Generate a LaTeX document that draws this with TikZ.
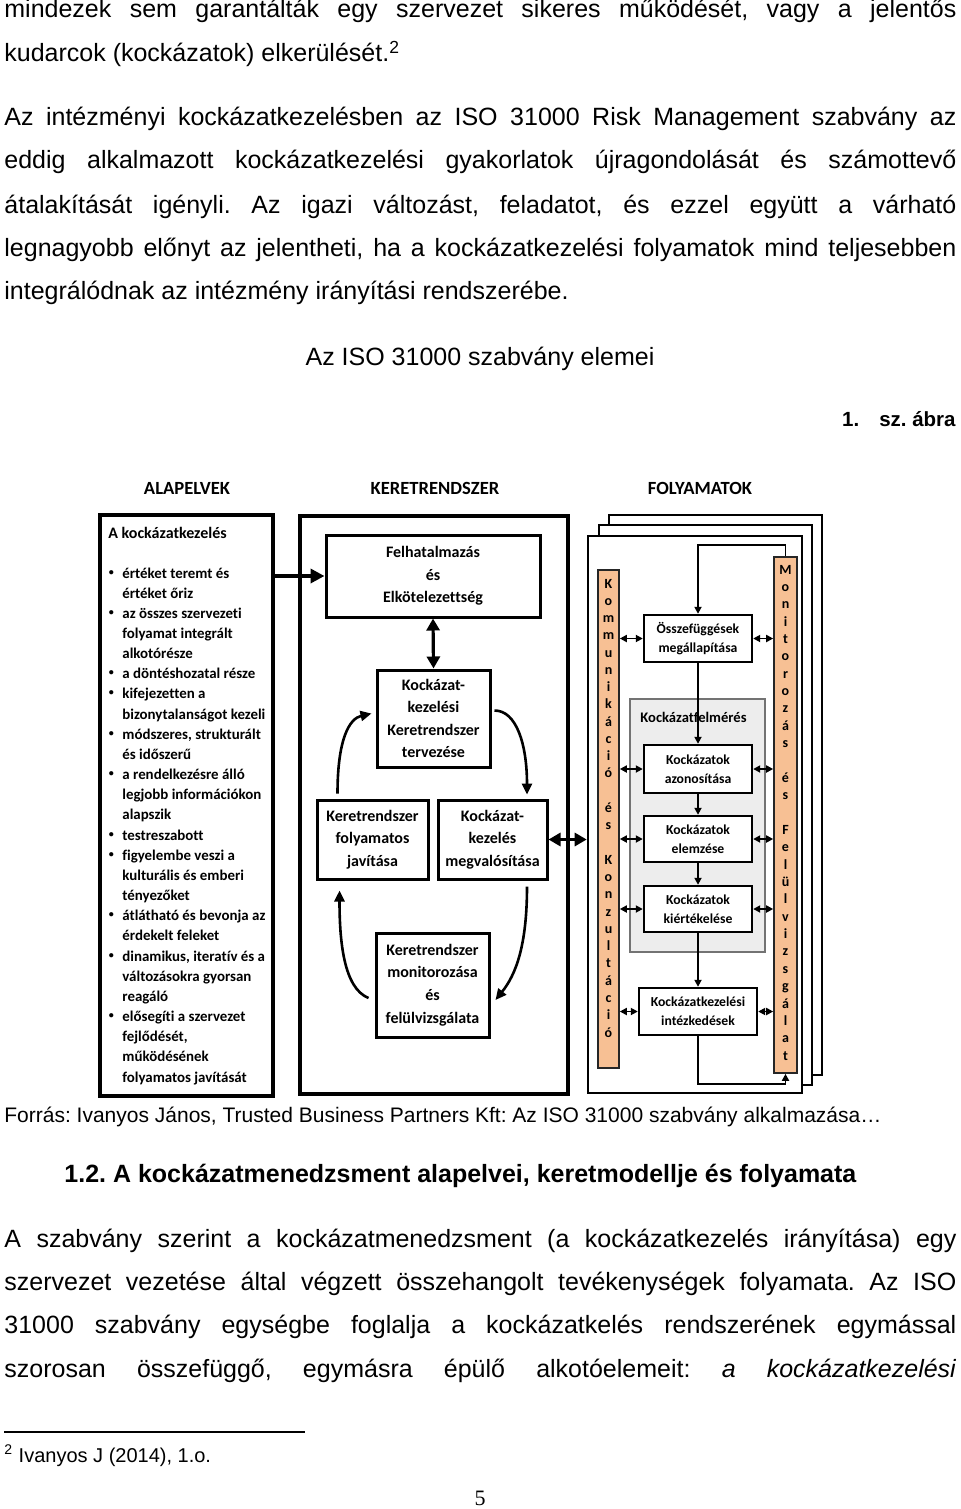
\documentclass[tikz,border=0pt]{standalone}
\usepackage{fontspec}
\setmainfont{Liberation Sans}
\newfontfamily\calfont{Carlito}[Ligatures=NoCommon]
\newfontfamily\serifpn{Liberation Serif}
\usetikzlibrary{arrows.meta,calc}
\definecolor{colpeach}{RGB}{247,192,148}
\frenchspacing
\begin{document}
\begin{tikzpicture}[x=0.5pt,y=-0.5pt,
  body/.style={anchor=base west, inner sep=0, font=\fontsize{12.5}{15}\selectfont},
  hd/.style={anchor=base, inner sep=0, font=\calfont\bfseries\fontsize{9.3}{11}\selectfont},
  bigbox/.style={draw, line width=1.7pt, inner sep=0},
  kbox/.style={draw, line width=1.5pt, fill=white, align=center, inner sep=0, font=\calfont\bfseries\fontsize{8}{11.3}\selectfont},
  fbox/.style={draw, line width=1.2pt, fill=white, align=center, inner sep=0, font=\calfont\bfseries\fontsize{6.85}{9.5}\selectfont},
  col/.style={draw=black!85, line width=0.8pt, fill=colpeach, inner sep=0},
  lt/.style={anchor=base, inner sep=0, font=\calfont\bfseries\fontsize{7}{8}\selectfont},
  lb/.style={anchor=base west, inner sep=0, font=\calfont\bfseries\fontsize{7.45}{10}\selectfont},
  heavy/.style={line width=1.8pt, -{Triangle[length=7pt,width=7pt]}},
  dheavy/.style={line width=1.6pt, {Triangle[length=6pt,width=6.5pt]}-{Triangle[length=6pt,width=6.5pt]}},
  curv/.style={line width=1.3pt, -{Triangle[length=5.5pt,width=5pt]}},
  thin/.style={line width=0.9pt, -{Triangle[length=3.5pt,width=3.5pt]}},
  dthin/.style={line width=0.9pt, {Triangle[length=3.5pt,width=3.5pt]}-{Triangle[length=3.5pt,width=3.5pt]}}
]
\useasboundingbox (0,0) rectangle (960,1509);
\fill[white] (0,0) rectangle (960,1509);

% ---------- body text ----------
\node[body] (p1) at (4,18) {\makebox[476pt][s]{mindezek sem garantálták egy szervezet sikeres működését, vagy a jelentős}};
\node[body] (p2) at (4,62) {kudarcok (kockázatok) elkerülését.\textsuperscript{2}};
\node[body] (p3) at (4,126) {\makebox[476pt][s]{Az intézményi kockázatkezelésben az ISO 31000 Risk Management szabvány az}};
\node[body] (p4) at (4,169) {\makebox[476pt][s]{eddig alkalmazott kockázatkezelési gyakorlatok újragondolását és számottevő}};
\node[body] (p5) at (4,213) {\makebox[476pt][s]{átalakítását igényli. Az igazi változást, feladatot, és ezzel együtt a várható}};
\node[body] (p6) at (4,256) {\makebox[476pt][s]{legnagyobb előnyt az jelentheti, ha a kockázatkezelési folyamatok mind teljesebben}};
\node[body] (p7) at (4,299) {integrálódnak az intézmény irányítási rendszerébe.};
\node[body, anchor=base] (title) at (480,365) {Az ISO 31000 szabvány elemei};
\node[anchor=base east, inner sep=0, font=\bfseries\fontsize{10.25}{12}\selectfont] (abra) at (956,426) {1.\hspace{10pt}sz. ábra};

% ---------- diagram headings ----------
\node[hd] (h1) at (187,494) {ALAPELVEK};
\node[hd] (h2) at (435,494) {KERETRENDSZER};
\node[hd] (h3) at (700,494) {FOLYAMATOK};

% ---------- ALAPELVEK ----------
\node[bigbox, minimum width=86.5pt, minimum height=290.5pt] (alap) at (186.5,805.5) {};
\node[lb, font=\calfont\bfseries\fontsize{8}{10}\selectfont] (alapt) at (108,538) {A kockázatkezelés};
\foreach \myi/\myb/\mytext in {
 0/1/{értéket teremt és}, 1/0/{értéket őriz}, 2/1/{az összes szervezeti},
 3/0/{folyamat integrált}, 4/0/{alkotórésze}, 5/1/{a döntéshozatal része},
 6/1/{kifejezetten a}, 7/0/{bizonytalanságot kezeli}, 8/1/{módszeres, strukturált},
 9/0/{és időszerű}, 10/1/{a rendelkezésre álló}, 11/0/{legjobb információkon},
 12/0/{alapszik}, 13/1/{testreszabott}, 14/1/{figyelembe veszi a},
 15/0/{kulturális és emberi}, 16/0/{tényezőket}, 17/1/{átlátható és bevonja az},
 18/0/{érdekelt feleket}, 19/1/{dinamikus, iteratív és a}, 20/0/{változásokra gyorsan},
 21/0/{reagáló}, 22/1/{elősegíti a szervezet}, 23/0/{fejlődését,},
 24/0/{működésének}, 25/0/{folyamatos javítását}}{
  \node[lb] (al\myi) at (122,{578+20.16*\myi}) {\mytext};
  \ifnum\myb=1 \node[lb, font=\calfont\bfseries\fontsize{5}{6}\selectfont] (bu\myi) at (108.5,{575+20.16*\myi}) {\textbullet};\fi
}

% ---------- KERETRENDSZER ----------
\node[bigbox, minimum width=134pt, minimum height=289pt] (keret) at (434,805) {};
\node[kbox, minimum width=107pt, minimum height=41pt] (felh) at (433,576) {Felhatalmazás\\és\\Elkötelezettség};
\node[kbox, minimum width=56.5pt, minimum height=48.5pt] (kterv) at (433.5,718.5) {Kockázat-\\kezelési\\Keretrendszer\\tervezése};
\node[kbox, minimum width=55.5pt, minimum height=39.5pt] (kjav) at (372.5,839.5) {Keretrendszer\\folyamatos\\javítása};
\node[kbox, minimum width=54.5pt, minimum height=39.5pt] (kmeg) at (492.5,839.5) {Kockázat-\\kezelés\\megvalósítása};
\node[kbox, minimum width=56.5pt, minimum height=52pt] (kmon) at (432.5,985) {Keretrendszer\\monitorozása\\és\\felülvizsgálata};

\draw[heavy] (alap.east |- felh.west) -- (felh.west);
\draw[dheavy] (felh.south) -- (kterv.north);
\draw[curv] ($(kjav.north)+(-35,-5)$) .. controls +(0,-55) and +(-22,5) .. ($(kterv.west)+(-4,-5)$);
\draw[curv] ($(kterv.east)+(3,-8)$) .. controls +(22,0) and +(0,-50) .. ($(kmeg.north)+(34.5,-4)$);
\draw[curv] ($(kmeg.south)+(34.5,6)$) .. controls +(0,60) and +(20,-25) .. ($(kmon.east)+(5,15)$);
\draw[curv] ($(kmon.west)+(-6,13)$) .. controls +(-25,-10) and +(0,50) .. ($(kjav.south)+(-33,10)$);

% ---------- FOLYAMATOK ----------
\node[bigbox, line width=1.3pt, fill=white, minimum width=106.5pt, minimum height=280pt] (fback) at (715.5,795) {};
\node[bigbox, line width=1.3pt, fill=white, minimum width=106.5pt, minimum height=280pt] (fmid) at (705.5,805) {};
\node[bigbox, line width=1.3pt, fill=white, minimum width=107pt, minimum height=278.5pt] (front) at (695,814.5) {};

\draw[dheavy] (kmeg.east) -- (front.west |- kmeg.east);

\node[col, minimum width=10.5pt, minimum height=249pt] (kom) at (608.5,819) {};
\node[col, minimum width=11.5pt, minimum height=258pt] (mon) at (785.5,815) {};
\foreach \ch [count=\myi from 0] in {K,o,m,m,u,n,i,k,á,c,i,ó,{},é,s,{},K,o,n,z,u,l,t,á,c,i,ó}
  \node[lt] (kl\myi) at (608.5,{588+17.27*\myi}) {\ch};
\foreach \ch [count=\myi from 0] in {M,o,n,i,t,o,r,o,z,á,s,{},é,s,{},F,e,l,ü,l,v,i,z,s,g,á,l,a,t}
  \node[lt] (ml\myi) at (785.5,{574+17.36*\myi}) {\ch};

\node[draw=black!55, line width=0.8pt, fill=black!7, inner sep=0, minimum width=67.5pt, minimum height=126.5pt] (kfel) at (697.5,825.5) {};
\node[anchor=base west, inner sep=0, font=\calfont\bfseries\fontsize{7.3}{9}\selectfont] (kfelt) at (640,722) {Kockázatfelmérés};

\node[fbox, minimum width=54pt, minimum height=23.5pt] (oss) at (698,638.5) {Összefüggések\\megállapítása};
\node[fbox, minimum width=54pt, minimum height=24pt] (azon) at (698,769) {Kockázatok\\azonosítása};
\node[fbox, minimum width=54pt, minimum height=23pt] (elem) at (698,839) {Kockázatok\\elemzése};
\node[fbox, minimum width=54pt, minimum height=23pt] (kiert) at (698,909) {Kockázatok\\kiértékelése};
\node[fbox, minimum width=59pt, minimum height=23.5pt] (intez) at (698,1011.5) {Kockázatkezelési\\intézkedések};

\draw[thin] (mon.north) |- ($(oss.north)+(0,-69)$) -- (oss.north);
\draw[thin] (oss.south) -- (azon.north);
\draw[thin] (azon.south) -- (elem.north);
\draw[thin] (elem.south) -- (kiert.north);
\draw[thin] (kiert.south) -- (intez.north);
\draw[thin] (intez.south) |- ($(mon.south)+(0,10)$) -- (mon.south);

\foreach \bx in {oss,azon,elem,kiert,intez}{
  \draw[dthin] (kom.east |- \bx.west) -- (\bx.west);
  \draw[dthin] (\bx.east) -- (mon.west |- \bx.east);
}

% ---------- text below ----------
\node[anchor=base west, inner sep=0, font=\fontsize{10.5}{12}\selectfont] (forras) at (4,1122) {Forrás: Ivanyos János, Trusted Business Partners Kft: Az ISO 31000 szabvány alkalmazása…};
\node[anchor=base west, inner sep=0, font=\bfseries\fontsize{12.5}{15}\selectfont] (h12) at (64,1182) {1.2. A kockázatmenedzsment alapelvei, keretmodellje és folyamata};
\node[body] (q1) at (4,1247) {\makebox[476pt][s]{A szabvány szerint a kockázatmenedzsment (a kockázatkezelés irányítása) egy}};
\node[body] (q2) at (4,1290) {\makebox[476pt][s]{szervezet vezetése által végzett összehangolt tevékenységek folyamata. Az ISO}};
\node[body] (q3) at (4,1333) {\makebox[476pt][s]{31000 szabvány egységbe foglalja a kockázatkelés rendszerének egymással}};
\node[body] (q4) at (4,1377) {\makebox[476pt][s]{szorosan összefüggő, egymásra épülő alkotóelemeit: \textit{a kockázatkezelési}}};
\draw[line width=0.6pt] (4,1432) -- (305,1432);
\node[anchor=base west, inner sep=0, font=\fontsize{10}{12}\selectfont] (fn) at (4,1462) {\textsuperscript{2} Ivanyos J (2014), 1.o.};
\node[anchor=base, inner sep=0, font=\serifpn\fontsize{11}{13}\selectfont] (pn) at (480,1505) {5};
\end{tikzpicture}
\end{document}
